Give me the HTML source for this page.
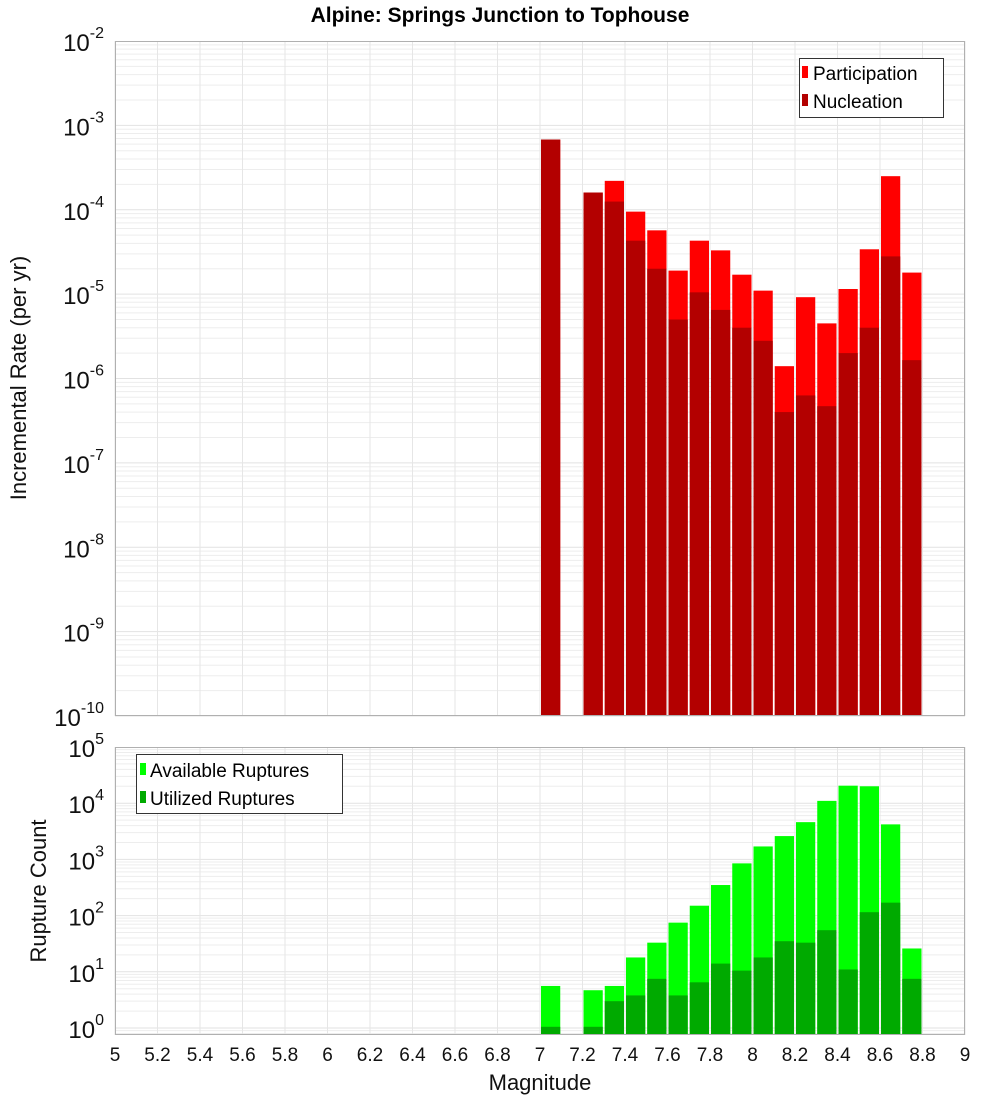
<!DOCTYPE html>
<html><head><meta charset="utf-8"><style>
html,body{margin:0;padding:0;background:#fff;width:1000px;height:1100px;overflow:hidden}
svg{display:block;font-family:"Liberation Sans","DejaVu Sans",sans-serif}
</style></head><body>
<svg id="c" width="1000" height="1100"></svg>
<script>
const mags=[7.05,7.15,7.25,7.35,7.45,7.55,7.65,7.75,7.85,7.95,8.05,8.15,8.25,8.35,8.45,8.55,8.65,8.75];
const participation=[6.8e-4,0,1.6e-4,2.2e-4,9.5e-5,5.7e-5,1.9e-5,4.3e-5,3.3e-5,1.7e-5,1.1e-5,1.4e-6,9.2e-6,4.5e-6,1.15e-5,3.4e-5,2.5e-4,1.8e-5];
const nucleation=[6.8e-4,0,1.6e-4,1.25e-4,4.3e-5,2e-5,5e-6,1.05e-5,6.5e-6,4e-6,2.8e-6,4e-7,6.3e-7,4.7e-7,2e-6,4e-6,2.8e-5,1.65e-6];
const available=[5.6,0,4.7,5.6,18,33,75,150,350,850,1700,2600,4600,11000,20500,20000,4200,26];
const utilized=[1.05,0,1.05,3,3.8,7.5,3.8,6.5,14,10.5,18,35,33,55,11,115,170,7.5];
const xTicks=[5,5.2,5.4,5.6,5.8,6,6.2,6.4,6.6,6.8,7,7.2,7.4,7.6,7.8,8,8.2,8.4,8.6,8.8,9];
const topExps=[-2,-3,-4,-5,-6,-7,-8,-9,-10];
const botExps=[5,4,3,2,1,0];

const NS="http://www.w3.org/2000/svg";
const svg=document.getElementById('c');
function el(t,a,p){const e=document.createElementNS(NS,t);for(const k in a)e.setAttribute(k,a[k]);(p||svg).appendChild(e);return e;}
const X0=115,X1=965;
const x=m=>X0+(m-5)/4*(X1-X0);
const yTop=v=>41+(-2-Math.log10(v))*(675/8);
const yBot=v=>747+(5-Math.log10(v))*56.2;

function panel(name,top,bot,yf,lo,hi){
  const g=el('g',{});
  
  
  el('rect',{x:X0,y:top,width:X1-X0,height:bot-top,fill:'#fff'},g);
  for(let e=lo;e<hi;e++){for(let k=1;k<10;k++){const yy=yf(k*Math.pow(10,e));if(yy<top||yy>bot)continue;
    const l=el('line',{x1:X0,x2:X1,y1:yy,y2:yy,stroke:k==1?'#e2e2e2':'#ededed','stroke-width':1},g);
    }}
  xTicks.forEach(t=>{const l=el('line',{x1:x(t),x2:x(t),y1:top,y2:bot,stroke:'#e6e6e6'},g);
    });
  return g;
}
function bars(g,vals,yf,bottom,color,name){
  vals.forEach((v,i)=>{if(!v)return;const xl=x(mags[i]-0.05)+1,xr=x(mags[i]+0.05);const yy=yf(v);
    const r=el('rect',{x:xl,y:yy,width:xr-xl-1,height:bottom-yy,fill:color},g);
    });
}
function frame(top,bot){el('rect',{x:X0+0.5,y:top+0.5,width:X1-X0-1,height:bot-top-1,fill:'none',stroke:'#b0b0b0'});}
function ylab(exps,yf,name){
  exps.forEach(e=>{const yy=yf(Math.pow(10,e));const t=el('text',{x:104,y:yy+10,'text-anchor':'end','font-size':24,fill:'#111'});
    
    const a=el('tspan',{},t);a.textContent='10';const b=el('tspan',{dy:-13,'font-size':16},t);b.textContent=String(e);
  });
}
// title
const tt=el('text',{x:500,y:22,'text-anchor':'middle','font-size':21,'font-weight':'bold',fill:'#000'});
tt.textContent='Alpine: Springs Junction to Tophouse';


// top panel
const g1=panel('rate',41,716,yTop,-10,-2);
bars(g1,participation,yTop,716,'#ff0000','participation');
bars(g1,nucleation,yTop,716,'#b30000','nucleation');
frame(41,716);
ylab(topExps,yTop,'rate-y');
const yl1=el('text',{x:0,y:0,transform:'translate(26,378) rotate(-90)','text-anchor':'middle','font-size':22,fill:'#111'});
yl1.textContent='Incremental Rate (per yr)';

// legend top
const lg1=el('g',{});
el('rect',{x:799.5,y:58.5,width:144,height:59,fill:'#fff',stroke:'#333'},lg1);
[['Participation','#ff0000',73],['Nucleation','#b30000',101]].forEach(([n,c,yy])=>{
  const r=el('rect',{x:802,y:yy-7,width:6,height:12,fill:c},lg1);
  const t=el('text',{x:813,y:yy+7,'font-size':19,fill:'#000'},lg1);t.textContent=n;});

// bottom panel
const g2=panel('count',747,1035,yBot,-1,5);
bars(g2,available,yBot,1035,'#00ff00','available');
bars(g2,utilized,yBot,1035,'#00aa00','utilized');
frame(747,1035);
ylab(botExps,yBot,'count-y');
const yl2=el('text',{x:0,y:0,transform:'translate(46,891) rotate(-90)','text-anchor':'middle','font-size':22,fill:'#111'});
yl2.textContent='Rupture Count';

const lg2=el('g',{});
el('rect',{x:136.5,y:754.5,width:206,height:59,fill:'#fff',stroke:'#333'},lg2);
[['Available Ruptures','#00ff00',770],['Utilized Ruptures','#00aa00',798]].forEach(([n,c,yy])=>{
  const r=el('rect',{x:140,y:yy-7,width:6,height:12,fill:c},lg2);
  const t=el('text',{x:150,y:yy+7,'font-size':19,fill:'#000'},lg2);t.textContent=n;});

// x ticks
xTicks.forEach(t=>{const tx=el('text',{x:x(t),y:1061,'text-anchor':'middle','font-size':19,fill:'#111'});
  tx.textContent=String(t);});
const xl=el('text',{x:540,y:1090,'text-anchor':'middle','font-size':22,fill:'#111'});
xl.textContent='Magnitude';
</script>
</body></html>
